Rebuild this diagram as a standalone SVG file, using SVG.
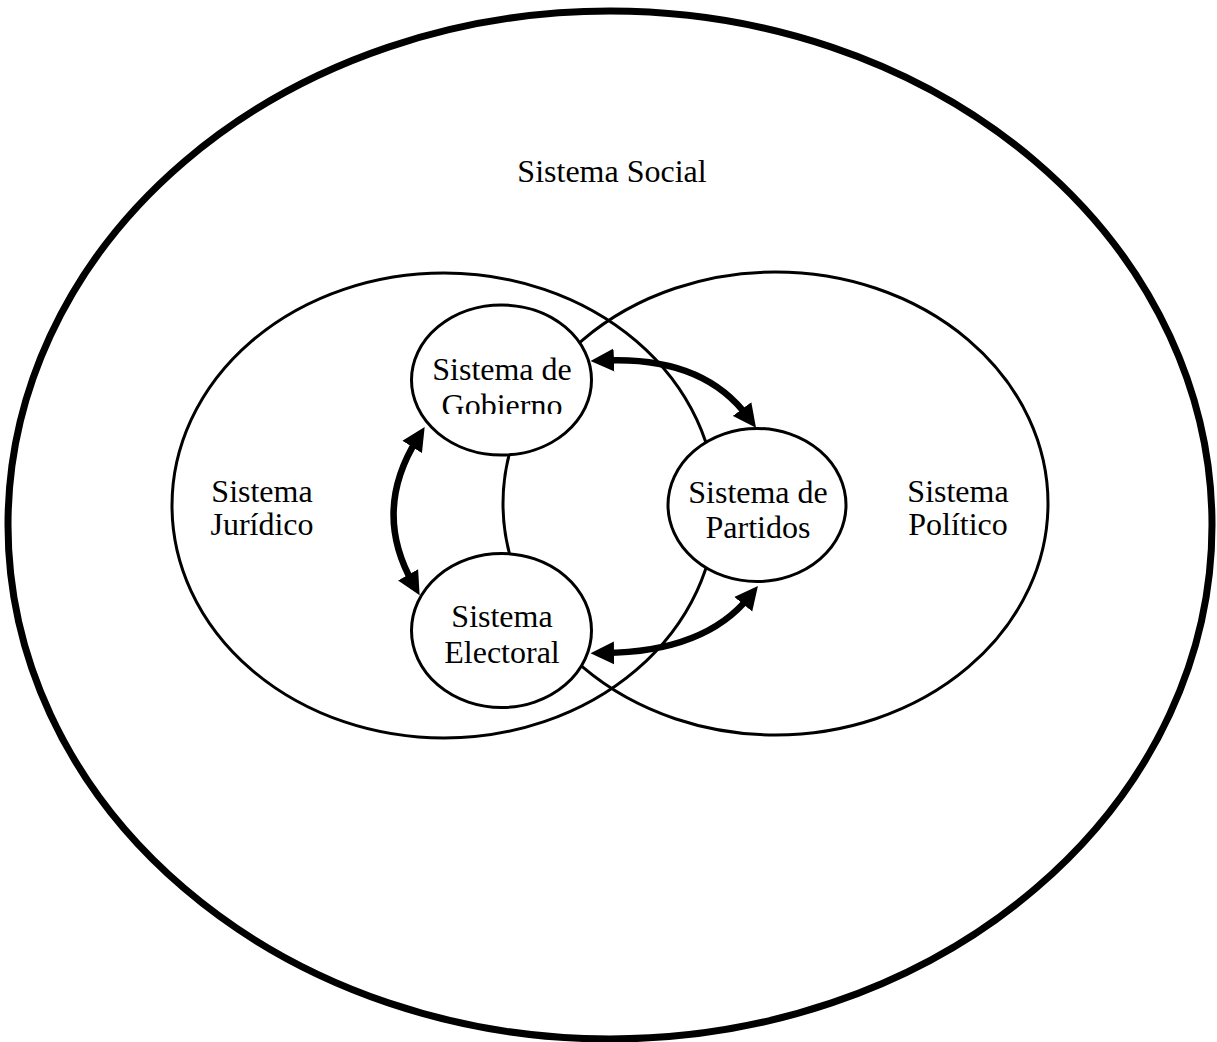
<svg xmlns="http://www.w3.org/2000/svg" width="1217" height="1042" viewBox="0 0 1217 1042">
  <style>
    .big { fill: none; stroke: #000; stroke-width: 3; }
    .node { fill: #fff; stroke: #000; stroke-width: 3; }
    .lbl { font-family: "Liberation Serif", "Times New Roman", serif; font-size: 32px; fill: #000; text-anchor: middle; }
    .arrow { fill: none; stroke: #000; stroke-width: 6.5; marker-start: url(#head); marker-end: url(#head); }
  </style>
  <defs>
    <marker id="head" markerUnits="userSpaceOnUse" markerWidth="24" markerHeight="24" viewBox="0 0 24 24" refX="10" refY="12" orient="auto-start-reverse">
      <path d="M0,0.5 L23.5,12 L0,23.5 z" fill="#000"/>
    </marker>
    <clipPath id="clipGob"><rect x="400" y="300" width="200" height="114"/></clipPath>
    <clipPath id="clipElec"><rect x="400" y="550" width="200" height="114"/></clipPath>
  </defs>
  <rect width="1217" height="1042" fill="#fff"/>

  <g id="sistema-social">
    <ellipse cx="610" cy="525" rx="602" ry="514" fill="none" stroke="#000" stroke-width="7"/>
    <text class="lbl" x="612" y="181.5">Sistema Social</text>
  </g>

  <g id="sistema-juridico">
    <ellipse class="big" cx="444" cy="505.5" rx="272" ry="232.5"/>
    <text class="lbl" x="262" y="502">Sistema</text>
    <text class="lbl" x="262" y="535">Jurídico</text>
  </g>

  <g id="sistema-politico">
    <ellipse class="big" cx="775.5" cy="503.5" rx="272.5" ry="231.5"/>
    <text class="lbl" x="958" y="502">Sistema</text>
    <text class="lbl" x="958" y="535">Político</text>
  </g>

  <g id="sistema-gobierno">
    <ellipse class="node" cx="501.5" cy="380" rx="90" ry="75"/>
    <g clip-path="url(#clipGob)">
      <text class="lbl" x="502" y="380">Sistema de</text>
      <text class="lbl" x="502" y="416">Gobierno</text>
    </g>
  </g>

  <g id="sistema-electoral">
    <ellipse class="node" cx="501.5" cy="630.5" rx="90" ry="77"/>
    <g clip-path="url(#clipElec)">
      <text class="lbl" x="502" y="627">Sistema</text>
      <text class="lbl" x="502" y="663">Electoral</text>
    </g>
  </g>

  <g id="sistema-partidos">
    <ellipse class="node" cx="757" cy="505" rx="89" ry="76.5"/>
    <text class="lbl" x="758" y="503">Sistema de</text>
    <text class="lbl" x="758" y="538">Partidos</text>
  </g>

  <g id="connectors">
    <path class="arrow" d="M604,360.5 Q703,356 748,417"/>
    <path class="arrow" d="M604,653 Q705,652 749.5,596.5"/>
    <path class="arrow" d="M417.5,438.5 Q372,511 413,583.5"/>
  </g>
</svg>
